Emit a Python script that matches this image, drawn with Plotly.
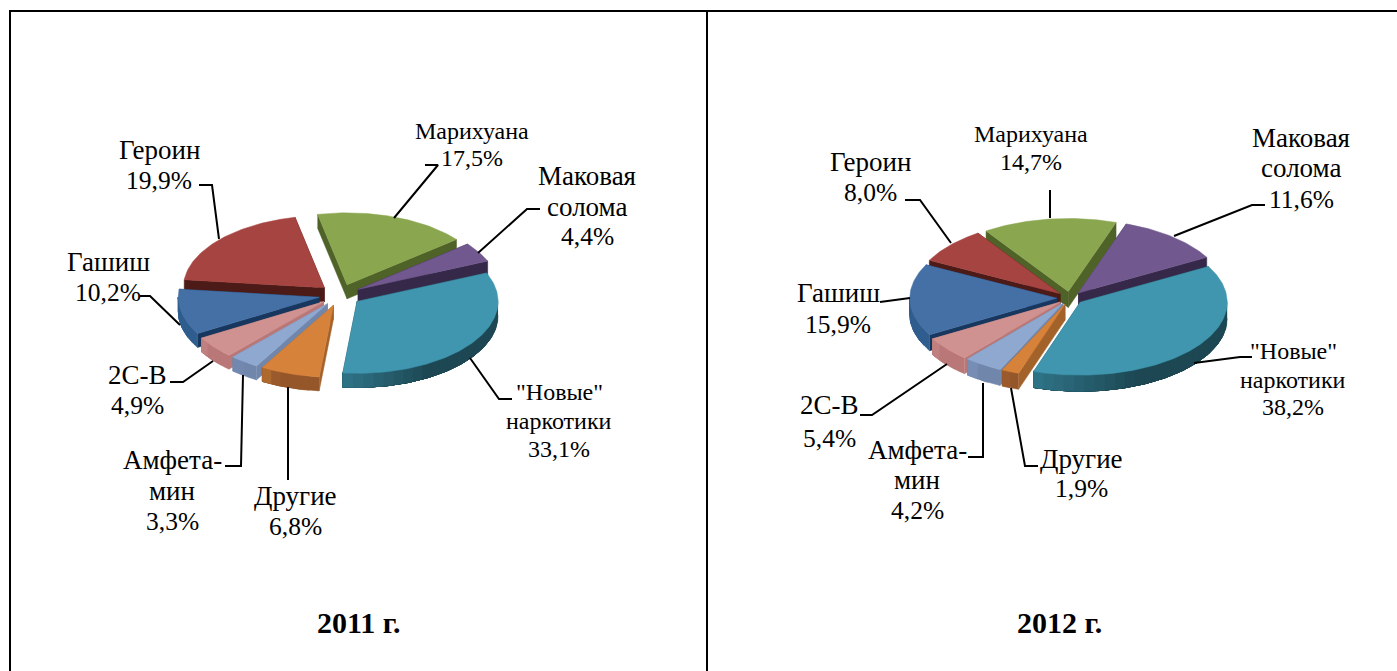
import math
import plotly.graph_objects as go

categories = ["Марихуана", "Маковая солома", '"Новые" наркотики', "Другие",
              "Амфетамин", "2С-В", "Гашиш", "Героин"]
values_2011 = [17.5, 4.4, 33.1, 6.8, 3.3, 4.9, 10.2, 19.9]
values_2012 = [14.7, 11.6, 38.2, 1.9, 4.2, 5.4, 15.9, 8.0]
label_names = [["Марихуана"], ["Маковая", "солома"], ['"Новые"', "наркотики"], ["Другие"],
               ["Амфета-", "мин"], ["2С-В"], ["Гашиш"], ["Героин"]]
year_titles = ["2011 г.", "2012 г."]

top_colors = ["#8aa64f", "#71588f", "#3f96ae", "#d6823a", "#8fa8d0", "#d09291", "#4470a6", "#a64441"]
radial_colors = ["#4f6228", "#362849", "#1f4c59", "#a4622b", "#7186ab", "#b97877", "#17375e", "#4c1a17"]
arc_colors = ["#4f6228", "#362849", "#1d4753", "#95562a", "#7186ab", "#b97877", "#2f5d8e", "#4c1a17"]
arc_light = ["#4f6228", "#362849", "#2f7488", "#b8702f", "#7f95bd", "#c48584", "#37699f", "#4c1a17"]

panels = [
    dict(vals=values_2011, cx=340, cy=295, rx=141, ry=72, depth=14, start=-12, pull=0.15,
         label_pos=[(472, [131, 158], 24), (587, [176, 207, 236], 27), (559, [392, 421, 449], 24),
                    (295, [496, 526], 27), (172, [460, 491, 521], 27), (137, [375, 405], 27),
                    (108, [262, 292], 27), (159, [150, 180], 27)],
         leaders=[[(425, 165), (438, 165), (394, 218)],
                  [(540, 209), (527, 209), (478, 253)],
                  [(470, 358), (499, 399), (512, 399)],
                  [(288, 387), (288, 480)],
                  [(243, 375), (241, 466), (225, 466)],
                  [(213, 361), (183, 382), (170, 382)],
                  [(180, 325), (150, 296), (140, 296)],
                  [(219, 239), (212, 185), (199, 185)]],
         title_x=359),
    dict(vals=values_2012, cx=1070, cy=298, rx=147, ry=73, depth=16, start=-34, pull=0.09,
         label_pos=[(1031, [134, 162], 24), (1301, [138, 168, 199], 27), (1293, [351, 380, 407], 24),
                    (1081, [459, 488], 27), (917, [450, 480, 510], 27), (829, [405, 438], 27),
                    (838, [293, 324], 27), (870, [162, 192], 27)],
         leaders=[[(1050, 218), (1050, 190)],
                  [(1174, 236), (1252, 205), (1265, 205)],
                  [(1194, 363), (1240, 357), (1252, 357)],
                  [(1011, 388), (1025, 466), (1038, 466)],
                  [(983, 383), (983, 457), (968, 457)],
                  [(947, 364), (872, 415), (860, 415)],
                  [(910, 298), (880, 302)],
                  [(951, 243), (920, 200), (905, 200)]],
         title_x=1059),
]


def mix(a, b, t):
    ca = [int(a[i:i + 2], 16) for i in (1, 3, 5)]
    cb = [int(b[i:i + 2], 16) for i in (1, 3, 5)]
    return "rgb(%d,%d,%d)" % tuple(round(x + (y - x) * t) for x, y in zip(ca, cb))


fig = go.Figure()


def poly(xs, ys, color):
    fig.add_trace(go.Scatter(x=xs, y=ys, mode="lines", fill="toself", fillcolor=color,
                             line=dict(color=color, width=0.5), hoverinfo="skip",
                             showlegend=False))


for p in panels:
    total = sum(p["vals"])
    slices = []
    ang = p["start"]
    for i, v in enumerate(p["vals"]):
        span = v / total * 360
        slices.append((i, ang, ang + span))
        ang += span
    slices.sort(key=lambda s: -math.cos(math.radians((s[1] + s[2]) / 2)))
    for i, a0, a1 in slices:
        mid = math.radians((a0 + a1) / 2)
        ax = p["cx"] + p["pull"] * p["rx"] * math.sin(mid)
        ay = p["cy"] - p["pull"] * p["ry"] * math.cos(mid)
        d = p["depth"]

        def rim(a):
            r = math.radians(a)
            return ax + p["rx"] * math.sin(r), ay - p["ry"] * math.cos(r)

        for a in (a0, a1):
            x, y = rim(a)
            poly([ax, x, x, ax, ax], [ay, y, y + d, ay + d, ay], radial_colors[i])

        # visible rim: the part facing the viewer, painted with overlapping bands
        lo, hi = max(a0, 90), min(a1, 270)
        if hi > lo:
            n = max(2, int((hi - lo) / 4))
            for k in range(n):
                b0 = lo + (hi - lo) * k / n
                frac = (a1 - (b0 + (hi - lo) / n / 2)) / (a1 - a0)
                col = mix(arc_colors[i], arc_light[i], max(0.0, 1 - frac / 0.3))
                m = max(2, int(hi - b0))
                pts = [rim(b0 + (hi - b0) * j / m) for j in range(m + 1)]
                poly([q[0] for q in pts] + [q[0] for q in reversed(pts)],
                     [q[1] for q in pts] + [q[1] + d for q in reversed(pts)], col)

        steps = max(8, int(a1 - a0))
        pts = [rim(a0 + (a1 - a0) * k / steps) for k in range(steps + 1)]
        poly([ax] + [q[0] for q in pts] + [ax], [ay] + [q[1] for q in pts] + [ay], top_colors[i])

    for line in p["leaders"]:
        fig.add_trace(go.Scatter(x=[q[0] for q in line], y=[q[1] for q in line], mode="lines",
                                 line=dict(color="black", width=2), hoverinfo="skip",
                                 showlegend=False))
    for name, v, (lx, lys, fs) in zip(label_names, p["vals"], p["label_pos"]):
        lines = name + [f"{v:.1f}%".replace(".", ",")]
        for j, (txt, ly) in enumerate(zip(lines, lys)):
            size = fs if j < len(name) else (fs - 1.5 if fs > 24 else fs)
            fig.add_annotation(x=lx, y=ly, xref="x", yref="y", showarrow=False, text=txt,
                               font=dict(family="Liberation Serif", size=size, color="black"))

for t, p in zip(year_titles, panels):
    fig.add_annotation(x=p["title_x"], y=622, xref="x", yref="y", showarrow=False,
                       text=f"<b>{t}</b>",
                       font=dict(family="Liberation Serif", size=30, color="black"))

border = dict(color="black", width=2)
for x0, y0, x1, y1 in [(10, 11, 10, 671), (9, 11, 1397, 11), (707, 11, 707, 671)]:
    fig.add_shape(type="line", x0=x0, y0=y0, x1=x1, y1=y1, xref="x", yref="y", line=border)

fig.update_layout(width=1397, height=671, margin=dict(l=0, r=0, t=0, b=0),
                  paper_bgcolor="white", plot_bgcolor="white", showlegend=False,
                  xaxis=dict(range=[0, 1397], visible=False, fixedrange=True),
                  yaxis=dict(range=[671, 0], visible=False, fixedrange=True))
fig.write_html("out.html", config={"displayModeBar": False},
               post_script="document.body.style.margin='0';document.body.style.overflow='hidden';")
